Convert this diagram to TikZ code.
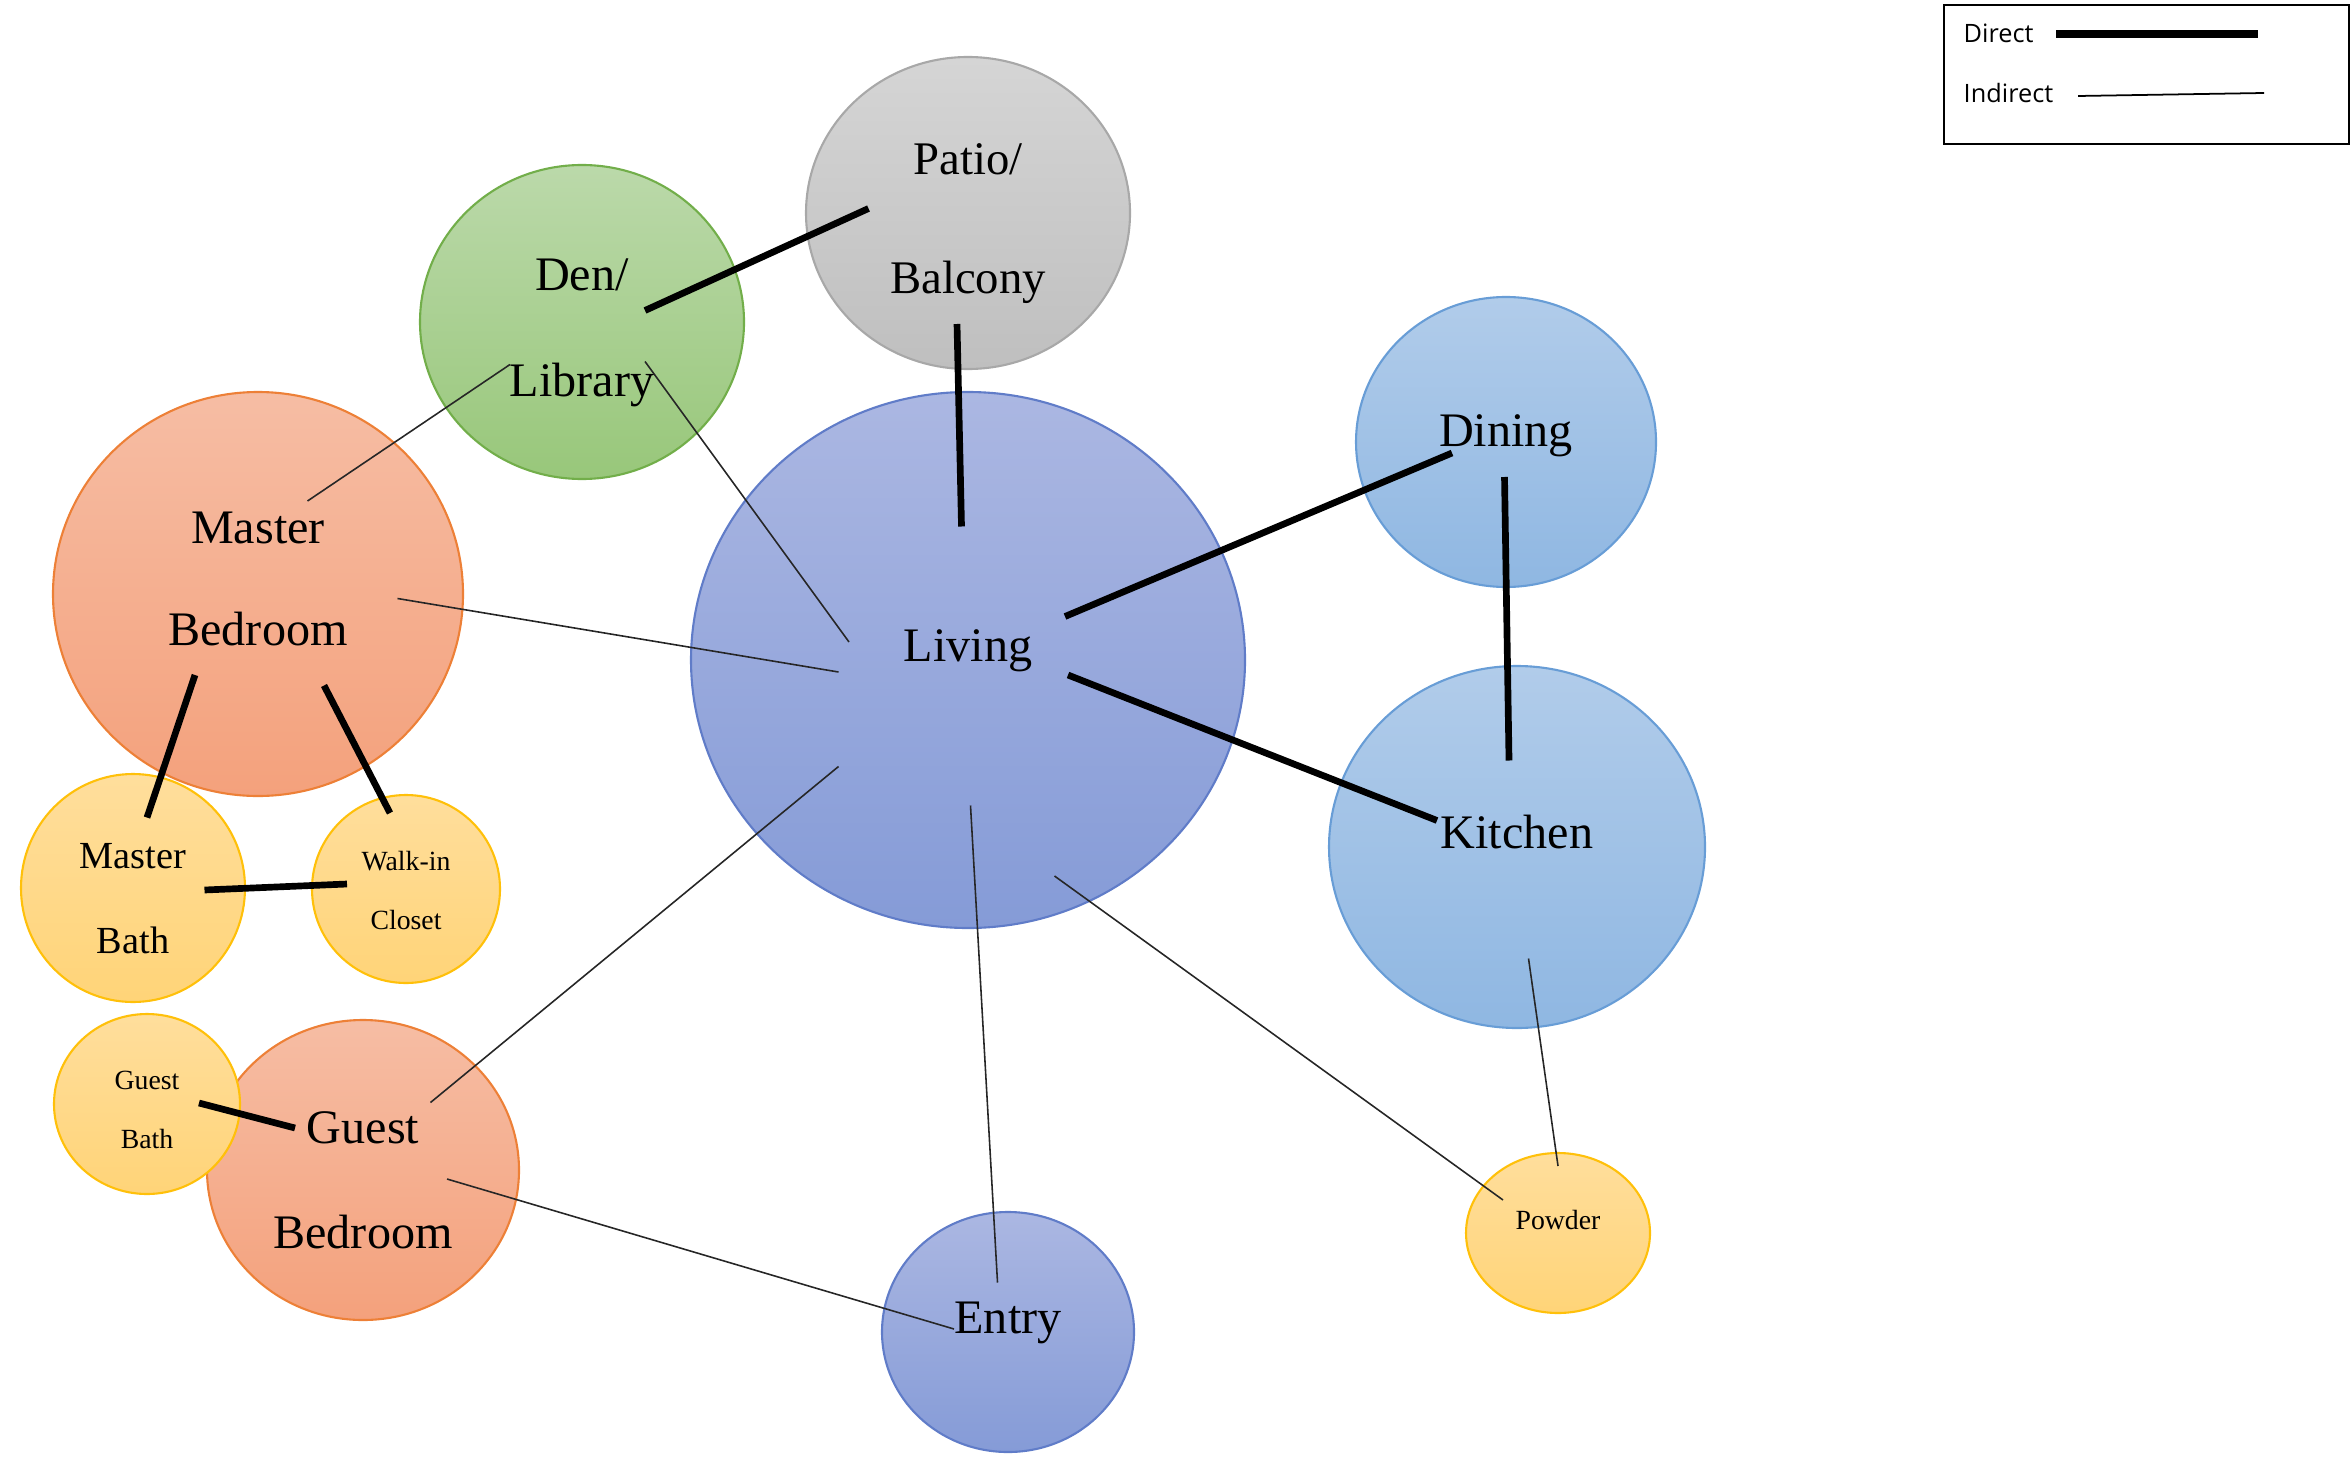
\documentclass[tikz,border=0pt]{standalone}
\usepackage{fontspec}
\setmainfont{Liberation Serif}
\newfontfamily\legendfont{Open Sans}
\usetikzlibrary{shapes.geometric}

\definecolor{livtop}{RGB}{171,183,226}
\definecolor{livbot}{RGB}{133,155,215}
\definecolor{livline}{RGB}{96,124,200}
\definecolor{bluetop}{RGB}{177,204,234}
\definecolor{bluebot}{RGB}{143,183,226}
\definecolor{blueline}{RGB}{104,157,214}
\definecolor{graytop}{RGB}{213,213,213}
\definecolor{graybot}{RGB}{191,191,191}
\definecolor{grayline}{RGB}{168,168,168}
\definecolor{greentop}{RGB}{187,217,170}
\definecolor{greenbot}{RGB}{152,199,122}
\definecolor{greenline}{RGB}{114,174,74}
\definecolor{orangetop}{RGB}{246,189,164}
\definecolor{orangebot}{RGB}{244,161,124}
\definecolor{orangeline}{RGB}{237,128,55}
\definecolor{yellowtop}{RGB}{255,222,156}
\definecolor{yellowbot}{RGB}{255,212,120}
\definecolor{yellowline}{RGB}{255,192,10}

\tikzset{
  room/.style={ellipse, draw, line width=0.6pt, inner sep=0pt},
  livroom/.style={room, draw=livline, top color=livtop, bottom color=livbot},
  blueroom/.style={room, draw=blueline, top color=bluetop, bottom color=bluebot},
  grayroom/.style={room, draw=grayline, top color=graytop, bottom color=graybot},
  greenroom/.style={room, draw=greenline, top color=greentop, bottom color=greenbot},
  orangeroom/.style={room, draw=orangeline, top color=orangetop, bottom color=orangebot},
  yellowroom/.style={room, draw=yellowline, top color=yellowtop, bottom color=yellowbot},
  bigtxt/.style={align=center, inner sep=0pt, font=\fontsize{13.7pt}{#1}\selectfont},
  bigtxt/.default=30pt,
  smalltxt/.style={align=center, inner sep=0pt, font=\fontsize{7.9pt}{17pt}\selectfont},
  direct/.style={line width=1.9pt},
  indirect/.style={line width=0.45pt, draw=black!85}
}

\begin{document}
\begin{tikzpicture}
\useasboundingbox (0,0) rectangle (23.51,-14.61);

\node[livroom, minimum width=5.54cm, minimum height=5.36cm,
  label={[bigtxt, yshift=0.09cm]center:Living}] (living) at (9.68,-6.60) {};
\node[grayroom, minimum width=3.24cm, minimum height=3.12cm,
  label={[align=center, inner sep=0pt, font=\fontsize{13.3pt}{34pt}\selectfont, yshift=-0.105cm]center:Patio/\\Balcony}] (patio) at (9.68,-2.13) {};
\node[greenroom, minimum width=3.24cm, minimum height=3.14cm,
  label={[bigtxt, yshift=-0.11cm]center:Den/\\Library}] (den) at (5.82,-3.22) {};
\node[orangeroom, minimum width=4.10cm, minimum height=4.04cm,
  label={[bigtxt=29pt, yshift=0.15cm]center:Master\\Bedroom}] (mbed) at (2.58,-5.94) {};
\node[blueroom, minimum width=3.00cm, minimum height=2.90cm,
  label={[bigtxt, yshift=0.06cm]center:Dining}] (dining) at (15.06,-4.42) {};
\node[blueroom, minimum width=3.76cm, minimum height=3.62cm,
  label={[bigtxt, yshift=0.15cm]center:Kitchen}] (kitchen) at (15.17,-8.47) {};

\node[yellowroom, minimum width=2.24cm, minimum height=2.28cm,
  label={[align=center, inner sep=0pt, font=\fontsize{10.9pt}{24pt}\selectfont, yshift=-0.105cm]center:Master\\Bath}] (mbath) at (1.33,-8.88) {};
\node[yellowroom, minimum width=1.88cm, minimum height=1.88cm,
  label={[smalltxt, yshift=-0.015cm]center:Walk-in\\Closet}] (closet) at (4.06,-8.89) {};

\node[orangeroom, minimum width=3.12cm, minimum height=3.00cm,
  label={[bigtxt, yshift=-0.1cm]center:Guest\\Bedroom}] (gbed) at (3.63,-11.70) {};
\node[yellowroom, minimum width=1.86cm, minimum height=1.80cm,
  label={[smalltxt, yshift=-0.06cm]center:Guest\\Bath}] (gbath) at (1.47,-11.04) {};

\node[livroom, minimum width=2.52cm, minimum height=2.40cm,
  label={[bigtxt, yshift=0.09cm]center:Entry}] (entry) at (10.08,-13.32) {};
\node[yellowroom, minimum width=1.84cm, minimum height=1.60cm,
  label={[smalltxt, yshift=0.135cm]center:Powder}] (powder) at (15.58,-12.33) {};

\draw[direct] ([shift={(0.63,0.115)}]den.center) -- ([shift={(-0.995,0.045)}]patio.center);
\draw[direct] ([shift={(-0.11,-1.11)}]patio.center) -- ([shift={(-0.065,1.335)}]living.center);
\draw[direct] ([shift={(0.97,0.435)}]living.center) -- ([shift={(-0.54,-0.11)}]dining.center);
\draw[direct] ([shift={(1.0,-0.15)}]living.center) -- ([shift={(-0.8,0.265)}]kitchen.center);
\draw[direct] ([shift={(-0.015,-0.35)}]dining.center) -- ([shift={(-0.08,0.865)}]kitchen.center);
\draw[direct] ([shift={(-0.63,-0.81)}]mbed.center) -- ([shift={(0.14,0.705)}]mbath.center);
\draw[direct] ([shift={(0.66,-0.915)}]mbed.center) -- ([shift={(-0.16,0.76)}]closet.center);
\draw[direct] ([shift={(0.715,-0.02)}]mbath.center) -- ([shift={(-0.59,0.05)}]closet.center);
\draw[direct] ([shift={(0.52,0.01)}]gbath.center) -- ([shift={(-0.68,0.42)}]gbed.center);

\draw[indirect] ([shift={(-0.72,-0.425)}]den.center) -- ([shift={(0.495,0.93)}]mbed.center);
\draw[indirect] ([shift={(0.63,-0.395)}]den.center) -- ([shift={(-1.19,0.18)}]living.center);
\draw[indirect] ([shift={(1.395,-0.045)}]mbed.center) -- ([shift={(-1.295,-0.12)}]living.center);
\draw[indirect] ([shift={(0.675,0.675)}]gbed.center) -- ([shift={(-1.295,-1.065)}]living.center);
\draw[indirect] ([shift={(0.84,-0.09)}]gbed.center) -- ([shift={(-0.54,0.03)}]entry.center);
\draw[indirect] ([shift={(0.025,-1.455)}]living.center) -- ([shift={(-0.105,0.495)}]entry.center);
\draw[indirect] ([shift={(0.865,-2.16)}]living.center) -- ([shift={(-0.55,0.33)}]powder.center);
\draw[indirect] ([shift={(0.115,-1.115)}]kitchen.center) -- ([shift={(0,0.67)}]powder.center);

\node[draw, line width=0.6pt, minimum width=4.05cm, minimum height=1.39cm, inner sep=0pt] (legend) at (21.465,-0.745) {};
\node[font=\legendfont\fontsize{7.2pt}{9pt}\selectfont, anchor=west, inner sep=0pt] (dirtxt) at (19.63,-0.33) {Direct};
\node[font=\legendfont\fontsize{7.2pt}{9pt}\selectfont, anchor=west, inner sep=0pt] (indtxt) at (19.63,-0.93) {Indirect};
\coordinate (d1) at (20.56,-0.34);
\coordinate (d2) at (22.58,-0.34);
\coordinate (i1) at (20.78,-0.96);
\coordinate (i2) at (22.64,-0.93);
\draw[line width=2pt] (d1) -- (d2);
\draw[line width=0.5pt] (i1) -- (i2);

\end{tikzpicture}
\end{document}
